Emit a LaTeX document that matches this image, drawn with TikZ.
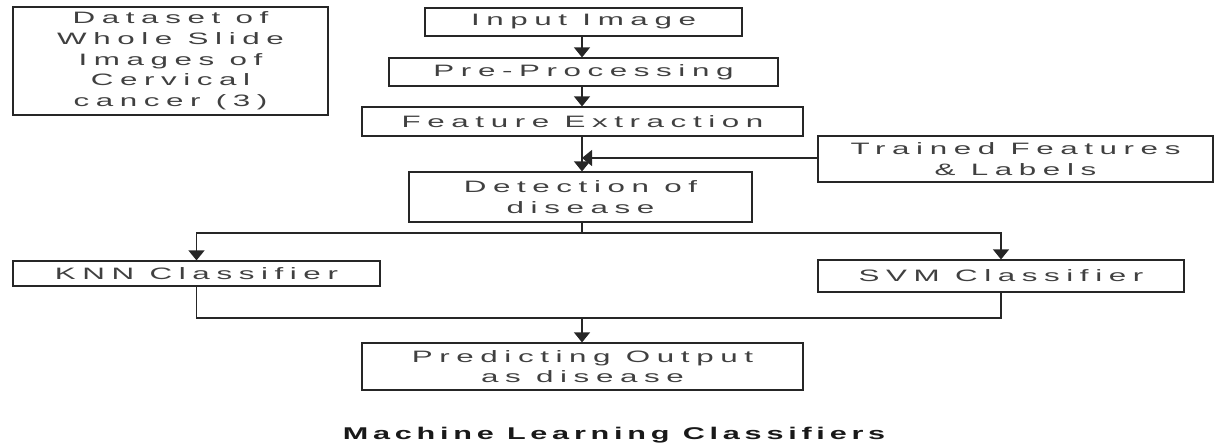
\documentclass[tikz,border=0pt]{standalone}
\usepackage{fontspec}
\setmainfont{Liberation Sans}[FakeStretch=1.9,LetterSpace=40]
\newfontfamily\capfont{Liberation Sans}[FakeStretch=1.8,LetterSpace=28]
\usetikzlibrary{arrows.meta}

\tikzset{
  box/.style={draw=black!85, line width=1.2pt, align=center, inner sep=0pt,
    font=\fontsize{16.5}{20.7}\selectfont, text=black!75},
  link/.style={draw=black!85, line width=1.2pt},
  arr/.style={link, -{Triangle[length=10pt,width=16pt]}}
}

\begin{document}
\begin{tikzpicture}[x=1pt,y=-1pt]
      \useasboundingbox (0,0) rectangle (1218,447);
      \coordinate (spine) at (582,0);
      \node[box, minimum width=315pt, minimum height=108pt] at (170.5,61) (data)
        {Dataset of\\Whole Slide\\Images of\\Cervical\\cancer (3)};
      \node[box, minimum width=317pt, minimum height=28pt] at (583.5,22) (input) {Input Image};
      \node[box, minimum width=389pt, minimum height=28pt] at (583.5,72) (pre) {Pre-Processing};
      \node[box, minimum width=441pt, minimum height=29pt] at (582.5,121.5) (feat) {Feature Extraction};
      \node[box, minimum width=395pt, minimum height=46pt] at (1015.5,159) (trained) {Trained Features\\\& Labels};
      \node[box, minimum width=343pt, minimum height=50pt] at (580.5,197) (detect) {Detection of\\disease};
      \node[box, minimum width=367pt, minimum height=25pt] at (196.5,273.5) (knn) {KNN Classifier};
      \node[box, minimum width=366pt, minimum height=32pt] at (1001,276) (svm) {SVM Classifier};
      \node[box, minimum width=441pt, minimum height=47pt] at (582.5,366.5) (predict) {Predicting Output\\as disease};
      \node[font=\capfont\bfseries\fontsize{17}{20}\selectfont, text=black!90] at (614,435) (caption) {Machine Learning Classifiers};
      \coordinate (split) at (582,233);
      \coordinate (merge) at (582,318);
      \draw[arr] (input.south -| spine) -- (pre.north -| spine);
      \draw[arr] (pre.south -| spine) -- (feat.north -| spine);
      \draw[arr] (feat.south -| spine) -- (detect.north -| spine);
      \draw[arr] (trained.west |- 0,158) -- (spine |- 0,158);
      \draw[link] (detect.south -| spine) -- (split);
      \draw[arr] (split) -| (knn.north);
      \draw[arr] (split) -| (svm.north);
      \draw[link] (knn.south) |- (merge);
      \draw[link] (svm.south) |- (merge);
      \draw[arr] (merge) -- (predict.north -| spine);
    \end{tikzpicture}
\end{document}
